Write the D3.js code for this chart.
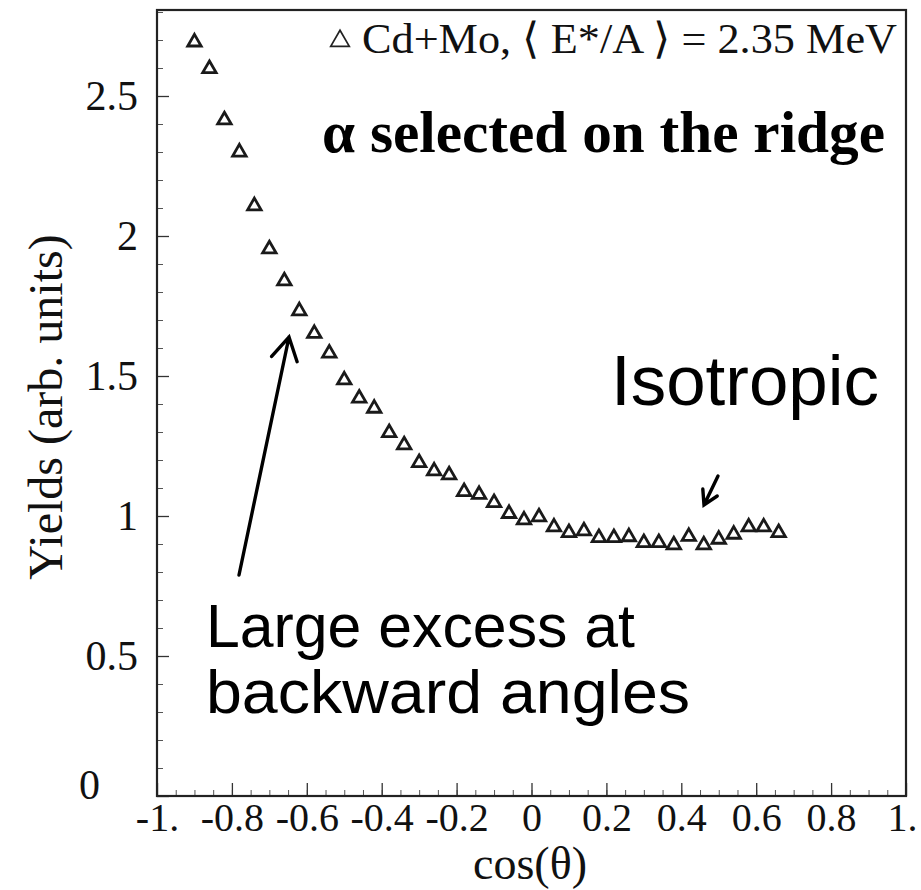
<!DOCTYPE html>
<html>
<head>
<meta charset="utf-8">
<script src="https://cdn.jsdelivr.net/npm/d3@7"></script>
<style>
  html, body { margin: 0; padding: 0; background: #fff; }
  svg { display: block; }
</style>
</head>
<body>
<svg id="chart" width="921" height="890"></svg>
<script>
// ---- data ----
const cosTheta = [-0.90, -0.86, -0.82, -0.78, -0.74, -0.70, -0.66, -0.62, -0.58, -0.54,
  -0.50, -0.46, -0.42, -0.38, -0.34, -0.30, -0.26, -0.22, -0.18, -0.14,
  -0.10, -0.06, -0.02, 0.02, 0.06, 0.10, 0.14, 0.18, 0.22, 0.26,
  0.30, 0.34, 0.38, 0.42, 0.46, 0.50, 0.54, 0.58, 0.62, 0.66];
const yields = [2.696, 2.601, 2.418, 2.303, 2.111, 1.957, 1.843, 1.736, 1.655, 1.585,
  1.489, 1.424, 1.388, 1.301, 1.257, 1.194, 1.164, 1.150, 1.090, 1.080,
  1.051, 1.012, 0.989, 1.000, 0.964, 0.944, 0.950, 0.926, 0.926, 0.929,
  0.908, 0.908, 0.900, 0.930, 0.900, 0.920, 0.938, 0.964, 0.964, 0.944];
const xTickValues = [-1, -0.8, -0.6, -0.4, -0.2, 0, 0.2, 0.4, 0.6, 0.8, 1];
const xTickLabels = ["-1.", "-0.8", "-0.6", "-0.4", "-0.2", "0", "0.2", "0.4", "0.6", "0.8", "1."];
const yTickValues = [0, 0.5, 1, 1.5, 2, 2.5];
const yTickLabels = ["0", "0.5", "1", "1.5", "2", "2.5"];
const legendLabel = "Cd+Mo, \u27E8 E*/A \u27E9 = 2.35 MeV";
const xTitle = "cos(\u03B8)";
const yTitle = "Yields (arb. units)";

// ---- layout ----
const L = 157, R = 906, T = 10, B = 796;
const svg = d3.select("#chart");
const x = d3.scaleLinear().domain([-1, 1]).range([L, R]);
const y = d3.scaleLinear().domain([0, 2.8]).range([B, B - 2.8 * 280]);
const serif = "'Liberation Serif', 'Times New Roman', serif";
const sans = "'Liberation Sans', Arial, sans-serif";

// minor ticks x
const xMinor = d3.range(-1, 1.0001, 0.05).map(v => +v.toFixed(2));
svg.append("g").attr("transform", `translate(0,${B})`)
  .call(d3.axisBottom(x).tickValues(xMinor).tickSize(-6).tickFormat(""))
  .call(g => g.select(".domain").remove())
  .call(g => g.selectAll("line").attr("stroke", "#555").attr("stroke-width", 1));
// major ticks x
const gx = svg.append("g").attr("transform", `translate(0,${B})`)
  .call(d3.axisBottom(x).tickValues(xTickValues).tickSize(-13).tickPadding(7)
    .tickFormat((d, i) => xTickLabels[i]));
gx.select(".domain").remove();
gx.selectAll("line").attr("stroke", "#333").attr("stroke-width", 1.3);
gx.selectAll("text").attr("font-family", serif).attr("font-size", 40).attr("fill", "#111");
gx.selectAll(".tick").filter(d => d === 1).select("text").attr("x", -4);

// minor ticks y
const yMinor = d3.range(0, 2.8001, 0.1).map(v => +v.toFixed(2));
svg.append("g").attr("transform", `translate(${L},0)`)
  .call(d3.axisLeft(y).tickValues(yMinor).tickSize(-6).tickFormat(""))
  .call(g => g.select(".domain").remove())
  .call(g => g.selectAll("line").attr("stroke", "#555").attr("stroke-width", 1));
const gy = svg.append("g").attr("transform", `translate(${L},0)`)
  .call(d3.axisLeft(y).tickValues(yTickValues).tickSize(-12).tickPadding(19)
    .tickFormat((d, i) => yTickLabels[i]));
gy.select(".domain").remove();
gy.selectAll("line").attr("stroke", "#333").attr("stroke-width", 1.3);
gy.selectAll("text").attr("font-family", serif).attr("font-size", 42).attr("fill", "#111");
// ROOT-style shift of the "0" label
gy.selectAll(".tick").filter(d => d === 0).select("text")
  .attr("x", -57).attr("dy", "0.05em");

// frame
svg.append("rect").attr("x", L).attr("y", T).attr("width", R - L).attr("height", B - T)
  .attr("fill", "none").attr("stroke", "#222").attr("stroke-width", 2.2);

// markers
const tri = d3.symbol().type(d3.symbolTriangle).size(78);
svg.append("g").selectAll("path").data(cosTheta).join("path")
  .attr("d", tri)
  .attr("transform", (d, i) => `translate(${x(d)},${y(yields[i]) + 1})`)
  .attr("fill", "none").attr("stroke", "#1a1a1a").attr("stroke-width", 2.8);

// legend
svg.append("path").attr("d", d3.symbol().type(d3.symbolTriangle).size(150))
  .attr("transform", "translate(340,41)")
  .attr("fill", "none").attr("stroke", "#222").attr("stroke-width", 1.7);
svg.append("text").attr("x", 362).attr("y", 53).attr("font-family", serif)
  .attr("font-size", 43).attr("fill", "#111")
  .attr("textLength", 535).attr("lengthAdjust", "spacingAndGlyphs").text(legendLabel);

// annotations
svg.append("text").attr("x", 322).attr("y", 152).attr("font-family", serif)
  .attr("font-weight", "bold").attr("font-size", 59).attr("fill", "#000")
  .attr("textLength", 563).attr("lengthAdjust", "spacingAndGlyphs")
  .text("\u03B1 selected on the ridge");
svg.append("text").attr("x", 611).attr("y", 405).attr("font-family", sans)
  .attr("font-size", 70).attr("fill", "#000")
  .attr("textLength", 268).attr("lengthAdjust", "spacingAndGlyphs").text("Isotropic");
svg.append("text").attr("x", 206).attr("y", 647).attr("font-family", sans)
  .attr("font-size", 61).attr("fill", "#000")
  .attr("textLength", 429).attr("lengthAdjust", "spacingAndGlyphs").text("Large excess at");
svg.append("text").attr("x", 206).attr("y", 713).attr("font-family", sans)
  .attr("font-size", 62).attr("fill", "#000")
  .attr("textLength", 484).attr("lengthAdjust", "spacingAndGlyphs").text("backward angles");

// arrows
function arrow(x1, y1, x2, y2, head) {
  const a = Math.atan2(y1 - y2, x1 - x2);
  const s = Math.PI / 6;
  const p = `M${x1},${y1}L${x2},${y2}` +
    `M${x2 + head * Math.cos(a + s)},${y2 + head * Math.sin(a + s)}L${x2},${y2}` +
    `L${x2 + head * Math.cos(a - s)},${y2 + head * Math.sin(a - s)}`;
  svg.append("path").attr("d", p).attr("fill", "none").attr("stroke", "#000")
    .attr("stroke-width", 3.4).attr("stroke-linecap", "round").attr("stroke-linejoin", "miter");
}
arrow(239, 575, 289, 337, 26);
arrow(718, 476, 704, 505, 16);

// axis titles
svg.append("text").attr("x", 530).attr("y", 879).attr("text-anchor", "middle")
  .attr("font-family", serif).attr("font-size", 46).attr("fill", "#111").text(xTitle);
svg.append("text").attr("transform", "translate(62,407) rotate(-90)")
  .attr("text-anchor", "middle").attr("font-family", serif).attr("font-size", 48)
  .attr("fill", "#111").text(yTitle);
</script>
</body>
</html>
